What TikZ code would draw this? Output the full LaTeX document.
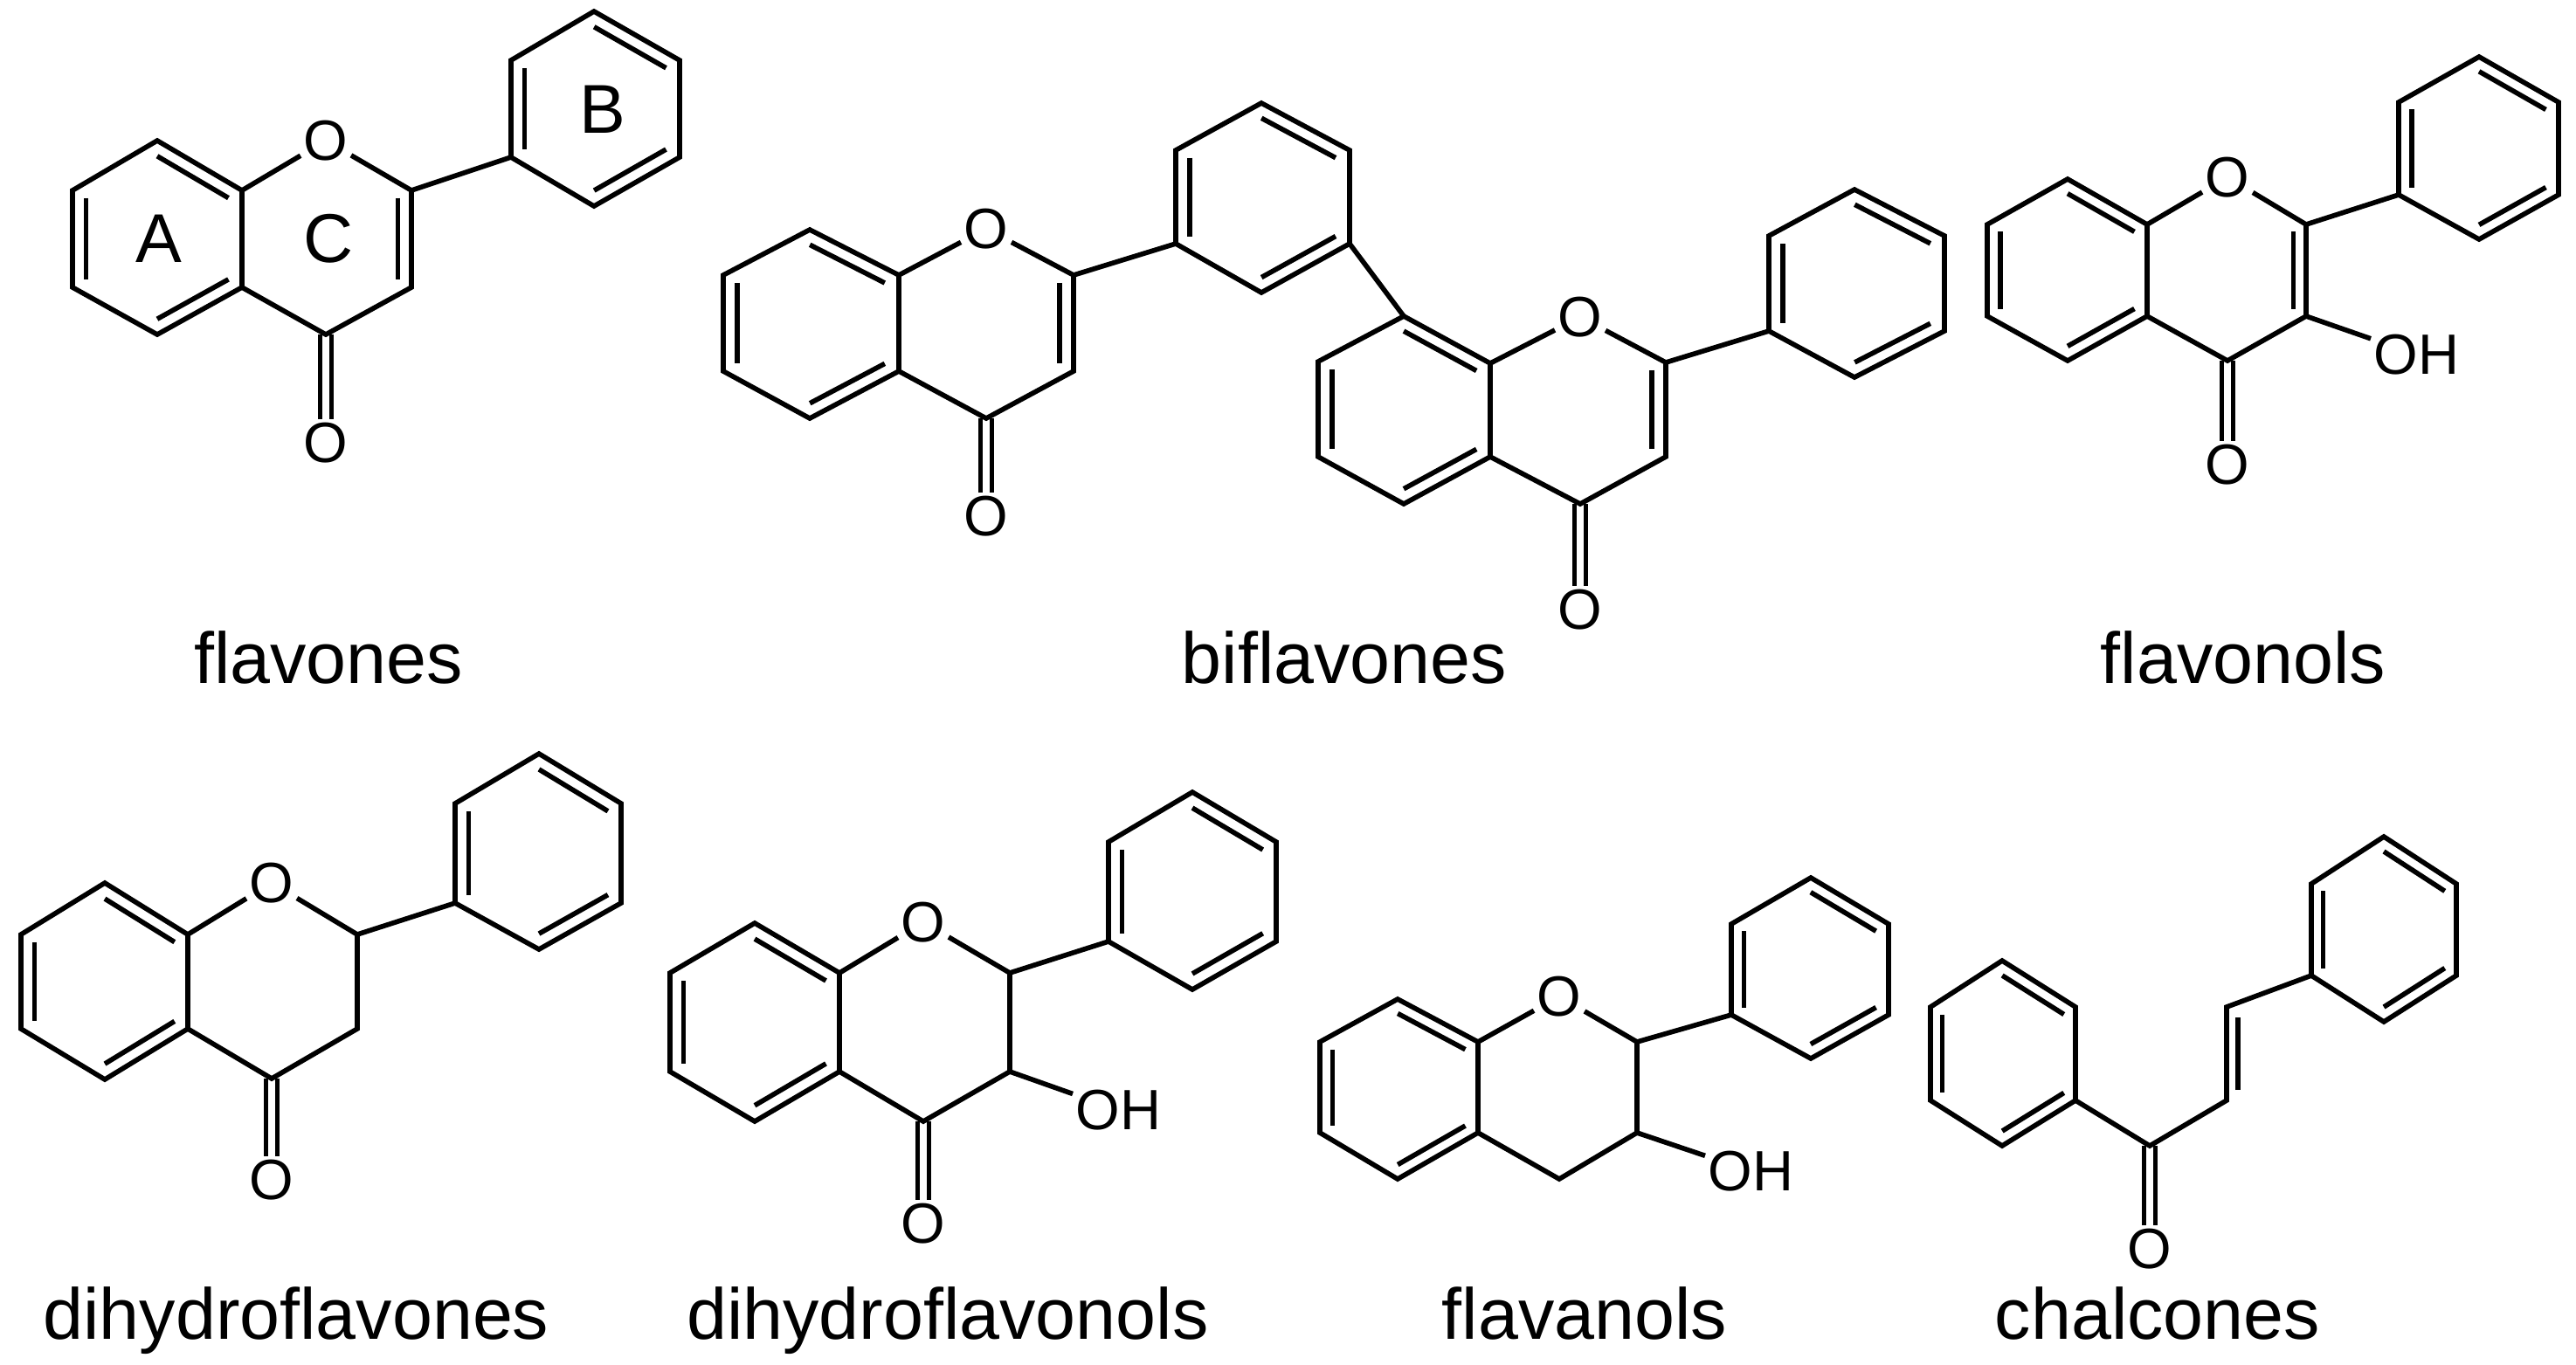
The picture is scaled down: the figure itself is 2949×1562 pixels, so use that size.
\documentclass[tikz,border=0pt]{standalone}
\usepackage{fontspec}
\setmainfont{Liberation Sans}
\usetikzlibrary{calc}
\tikzset{
  bond/.style={line width=1.6pt, line join=miter},
  atom/.style={inner sep=0.03cm, font=\fontsize{18.5pt}{20pt}\selectfont},
  ringlab/.style={inner sep=0pt, font=\fontsize{22.5pt}{24pt}\selectfont},
  cname/.style={inner sep=0pt, anchor=base, font=\fontsize{23.5pt}{26pt}\selectfont}
}
\newcommand{\ib}[3]{\draw[bond] ($(#1)!0.16!(#3)$) -- ($(#2)!0.16!(#3)$);}
\newcommand{\co}[2]{\draw[bond] ([xshift=-0.065cm]#1) -- ([xshift=-0.065cm]#2.north); \draw[bond] ([xshift=0.065cm]#1) -- ([xshift=0.065cm]#2.north);}
\newcommand{\hexa}[6]{\draw[bond] (#1)--(#2)--(#3)--(#4)--(#5)--(#6)--cycle;}
\begin{document}
\begin{tikzpicture}[x=0.01cm,y=-0.01cm]
\useasboundingbox (0,0) rectangle (2949,1562);
% ================= flavones
\coordinate (fA1) at (180,161); \coordinate (fA2) at (277,218); \coordinate (fA3) at (277,329);
\coordinate (fA4) at (180,383); \coordinate (fA5) at (83,329); \coordinate (fA6) at (83,218);
\coordinate (fAc) at (180,272);
\node[atom] (fO) at (373,161) {O};
\coordinate (fC2) at (471,218); \coordinate (fC3) at (471,329); \coordinate (fC4) at (373,383);
\coordinate (fCc) at (373,272);
\node[atom] (fOc) at (373,507) {O};
\coordinate (fB1) at (680,13); \coordinate (fB2) at (778,69); \coordinate (fB3) at (778,180);
\coordinate (fB4) at (680,236); \coordinate (fB5) at (585,180); \coordinate (fB6) at (585,69);
\coordinate (fBc) at (681,124);
\hexa{fA1}{fA2}{fA3}{fA4}{fA5}{fA6}
\ib{fA6}{fA5}{fAc} \ib{fA1}{fA2}{fAc} \ib{fA3}{fA4}{fAc}
\draw[bond] (fA2) -- (fO); \draw[bond] (fO) -- (fC2);
\draw[bond] (fC2) -- (fC3) -- (fC4) -- (fA3);
\ib{fC2}{fC3}{fCc}
\co{fC4}{fOc}
\draw[bond] (fC2) -- (fB5);
\hexa{fB1}{fB2}{fB3}{fB4}{fB5}{fB6}
\ib{fB6}{fB5}{fBc} \ib{fB1}{fB2}{fBc} \ib{fB3}{fB4}{fBc}
\node[ringlab] (labA) at (182,273) {A};
\node[ringlab] (labC) at (376,273) {C};
\node[ringlab] (labB) at (690,125) {B};
\node[cname] (nflavones) at (376,782) {flavones};
% ================= biflavones
\coordinate (bA1) at (927,263); \coordinate (bA2) at (1029,315); \coordinate (bA3) at (1029,425);
\coordinate (bA4) at (927,479); \coordinate (bA5) at (828,425); \coordinate (bA6) at (828,315);
\coordinate (bAc) at (928,371);
\node[atom] (bO) at (1129,262) {O};
\coordinate (bC2) at (1229,315); \coordinate (bC3) at (1229,425); \coordinate (bC4) at (1129,479);
\coordinate (bCc) at (1129,371);
\node[atom] (bOc) at (1129,591) {O};
\hexa{bA1}{bA2}{bA3}{bA4}{bA5}{bA6}
\ib{bA6}{bA5}{bAc} \ib{bA1}{bA2}{bAc} \ib{bA3}{bA4}{bAc}
\draw[bond] (bA2) -- (bO); \draw[bond] (bO) -- (bC2);
\draw[bond] (bC2) -- (bC3) -- (bC4) -- (bA3);
\ib{bC2}{bC3}{bCc}
\co{bC4}{bOc}
% middle ring
\coordinate (bM1) at (1444,118); \coordinate (bM2) at (1545,172); \coordinate (bM3) at (1545,279);
\coordinate (bM4) at (1444,335); \coordinate (bM5) at (1346,279); \coordinate (bM6) at (1346,172);
\coordinate (bMc) at (1445,226);
\draw[bond] (bC2) -- (bM5);
\hexa{bM1}{bM2}{bM3}{bM4}{bM5}{bM6}
\ib{bM6}{bM5}{bMc} \ib{bM1}{bM2}{bMc} \ib{bM3}{bM4}{bMc}
% second chromone
\coordinate (cA1) at (1607,362); \coordinate (cA2) at (1706,416); \coordinate (cA3) at (1706,523);
\coordinate (cA4) at (1607,577); \coordinate (cA5) at (1509,523); \coordinate (cA6) at (1509,414);
\coordinate (cAc) at (1607,469);
\node[atom] (cO) at (1809,363) {O};
\coordinate (cC2) at (1907,415); \coordinate (cC3) at (1907,523); \coordinate (cC4) at (1809,577);
\coordinate (cCc) at (1808,469);
\node[atom] (cOc) at (1809,698) {O};
\draw[bond] (bM3) -- (cA1);
\hexa{cA1}{cA2}{cA3}{cA4}{cA5}{cA6}
\ib{cA6}{cA5}{cAc} \ib{cA1}{cA2}{cAc} \ib{cA3}{cA4}{cAc}
\draw[bond] (cA2) -- (cO); \draw[bond] (cO) -- (cC2);
\draw[bond] (cC2) -- (cC3) -- (cC4) -- (cA3);
\ib{cC2}{cC3}{cCc}
\co{cC4}{cOc}
\coordinate (cB1) at (2123,217); \coordinate (cB2) at (2226,270); \coordinate (cB3) at (2226,379);
\coordinate (cB4) at (2123,432); \coordinate (cB5) at (2025,379); \coordinate (cB6) at (2025,270);
\coordinate (cBc) at (2125,325);
\draw[bond] (cC2) -- (cB5);
\hexa{cB1}{cB2}{cB3}{cB4}{cB5}{cB6}
\ib{cB6}{cB5}{cBc} \ib{cB1}{cB2}{cBc} \ib{cB3}{cB4}{cBc}
\node[cname] (nbiflavones) at (1539,782) {biflavones};
% ================= flavonols
\coordinate (lA1) at (2367,205); \coordinate (lA2) at (2458,257); \coordinate (lA3) at (2458,362);
\coordinate (lA4) at (2367,413); \coordinate (lA5) at (2275,362); \coordinate (lA6) at (2275,257);
\coordinate (lAc) at (2367,309);
\node[atom] (lO) at (2550,203) {O};
\coordinate (lC2) at (2640,257); \coordinate (lC3) at (2640,362); \coordinate (lC4) at (2550,413);
\coordinate (lCc) at (2549,309);
\node[atom] (lOc) at (2550,532) {O};
\node[atom, anchor=west] (lOH) at (2714,406) {OH};
\hexa{lA1}{lA2}{lA3}{lA4}{lA5}{lA6}
\ib{lA6}{lA5}{lAc} \ib{lA1}{lA2}{lAc} \ib{lA3}{lA4}{lAc}
\draw[bond] (lA2) -- (lO); \draw[bond] (lO) -- (lC2);
\draw[bond] (lC2) -- (lC3) -- (lC4) -- (lA3);
\ib{lC2}{lC3}{lCc}
\co{lC4}{lOc}
\draw[bond] (lC3) -- (lOH);
\coordinate (lB1) at (2838,65); \coordinate (lB2) at (2929,117); \coordinate (lB3) at (2929,223);
\coordinate (lB4) at (2838,274); \coordinate (lB5) at (2746,223); \coordinate (lB6) at (2746,117);
\coordinate (lBc) at (2838,170);
\draw[bond] (lC2) -- (lB5);
\hexa{lB1}{lB2}{lB3}{lB4}{lB5}{lB6}
\ib{lB6}{lB5}{lBc} \ib{lB1}{lB2}{lBc} \ib{lB3}{lB4}{lBc}
\node[cname] (nflavonols) at (2568,782) {flavonols};
% ================= dihydroflavones
\coordinate (dA1) at (120,1011); \coordinate (dA2) at (215,1070); \coordinate (dA3) at (215,1178);
\coordinate (dA4) at (120,1236); \coordinate (dA5) at (24,1178); \coordinate (dA6) at (24,1070);
\coordinate (dAc) at (120,1124);
\node[atom] (dO) at (311,1011) {O};
\coordinate (dC2) at (409,1070); \coordinate (dC3) at (409,1178); \coordinate (dC4) at (311,1235);
\coordinate (dCc) at (311,1124);
\node[atom] (dOc) at (311,1351) {O};
\hexa{dA1}{dA2}{dA3}{dA4}{dA5}{dA6}
\ib{dA6}{dA5}{dAc} \ib{dA1}{dA2}{dAc} \ib{dA3}{dA4}{dAc}
\draw[bond] (dA2) -- (dO); \draw[bond] (dO) -- (dC2);
\draw[bond] (dC2) -- (dC3) -- (dC4) -- (dA3);
\co{dC4}{dOc}
\coordinate (dB1) at (617,863); \coordinate (dB2) at (711,920); \coordinate (dB3) at (711,1034);
\coordinate (dB4) at (617,1087); \coordinate (dB5) at (521,1034); \coordinate (dB6) at (521,920);
\coordinate (dBc) at (617,975);
\draw[bond] (dC2) -- (dB5);
\hexa{dB1}{dB2}{dB3}{dB4}{dB5}{dB6}
\ib{dB6}{dB5}{dBc} \ib{dB1}{dB2}{dBc} \ib{dB3}{dB4}{dBc}
\node[cname] (ndihydroflavones) at (339,1533) {dihydroflavones};
% ================= dihydroflavonols
\coordinate (eA1) at (864,1057); \coordinate (eA2) at (961,1114); \coordinate (eA3) at (961,1227);
\coordinate (eA4) at (864,1284); \coordinate (eA5) at (767,1227); \coordinate (eA6) at (767,1114);
\coordinate (eAc) at (864,1170);
\node[atom] (eO) at (1057,1056) {O};
\coordinate (eC2) at (1156,1114); \coordinate (eC3) at (1156,1227); \coordinate (eC4) at (1057,1284);
\coordinate (eCc) at (1058,1170);
\node[atom] (eOc) at (1057,1401) {O};
\node[atom, anchor=west] (eOH) at (1228,1271) {OH};
\hexa{eA1}{eA2}{eA3}{eA4}{eA5}{eA6}
\ib{eA6}{eA5}{eAc} \ib{eA1}{eA2}{eAc} \ib{eA3}{eA4}{eAc}
\draw[bond] (eA2) -- (eO); \draw[bond] (eO) -- (eC2);
\draw[bond] (eC2) -- (eC3) -- (eC4) -- (eA3);
\co{eC4}{eOc}
\draw[bond] (eC3) -- (eOH);
\coordinate (eB1) at (1365,907); \coordinate (eB2) at (1461,964); \coordinate (eB3) at (1461,1078);
\coordinate (eB4) at (1365,1133); \coordinate (eB5) at (1269,1078); \coordinate (eB6) at (1269,964);
\coordinate (eBc) at (1365,1020);
\draw[bond] (eC2) -- (eB5);
\hexa{eB1}{eB2}{eB3}{eB4}{eB5}{eB6}
\ib{eB6}{eB5}{eBc} \ib{eB1}{eB2}{eBc} \ib{eB3}{eB4}{eBc}
\node[cname] (ndihydroflavonols) at (1085,1533) {dihydroflavonols};
% ================= flavanols
\coordinate (gA1) at (1600,1144); \coordinate (gA2) at (1692,1193); \coordinate (gA3) at (1692,1297);
\coordinate (gA4) at (1600,1350); \coordinate (gA5) at (1511,1297); \coordinate (gA6) at (1511,1193);
\coordinate (gAc) at (1601,1247);
\node[atom] (gO) at (1785,1141) {O};
\coordinate (gC2) at (1874,1193); \coordinate (gC3) at (1874,1297); \coordinate (gC4) at (1785,1350);
\node[atom, anchor=west] (gOH) at (1952,1341) {OH};
\hexa{gA1}{gA2}{gA3}{gA4}{gA5}{gA6}
\ib{gA6}{gA5}{gAc} \ib{gA1}{gA2}{gAc} \ib{gA3}{gA4}{gAc}
\draw[bond] (gA2) -- (gO); \draw[bond] (gO) -- (gC2);
\draw[bond] (gC2) -- (gC3) -- (gC4) -- (gA3);
\draw[bond] (gC3) -- (gOH);
\coordinate (gB1) at (2073,1005); \coordinate (gB2) at (2162,1058); \coordinate (gB3) at (2162,1162);
\coordinate (gB4) at (2073,1212); \coordinate (gB5) at (1982,1162); \coordinate (gB6) at (1982,1058);
\coordinate (gBc) at (2072,1109);
\draw[bond] (gC2) -- (gB5);
\hexa{gB1}{gB2}{gB3}{gB4}{gB5}{gB6}
\ib{gB6}{gB5}{gBc} \ib{gB1}{gB2}{gBc} \ib{gB3}{gB4}{gBc}
\node[cname] (nflavanols) at (1814,1533) {flavanols};
% ================= chalcones
\coordinate (hA1) at (2292,1100); \coordinate (hA2) at (2376,1153); \coordinate (hA3) at (2376,1260);
\coordinate (hA4) at (2292,1312); \coordinate (hA5) at (2210,1260); \coordinate (hA6) at (2210,1153);
\coordinate (hAc) at (2293,1206);
\coordinate (hCO) at (2461,1312);
\node[atom] (hO) at (2461,1430) {O};
\coordinate (hCa) at (2549,1260); \coordinate (hCb) at (2549,1153);
\coordinate (hB1) at (2729,958); \coordinate (hB2) at (2812,1012); \coordinate (hB3) at (2812,1117);
\coordinate (hB4) at (2729,1170); \coordinate (hB5) at (2646,1117); \coordinate (hB6) at (2646,1012);
\coordinate (hBc) at (2729,1064);
\hexa{hA1}{hA2}{hA3}{hA4}{hA5}{hA6}
\ib{hA6}{hA5}{hAc} \ib{hA1}{hA2}{hAc} \ib{hA3}{hA4}{hAc}
\draw[bond] (hA3) -- (hCO) -- (hCa) -- (hCb) -- (hB5);
\draw[bond] ([xshift=0.13cm,yshift=0.12cm]hCa) -- ([xshift=0.13cm,yshift=-0.12cm]hCb);
\co{hCO}{hO}
\hexa{hB1}{hB2}{hB3}{hB4}{hB5}{hB6}
\ib{hB6}{hB5}{hBc} \ib{hB1}{hB2}{hBc} \ib{hB3}{hB4}{hBc}
\node[cname] (nchalcones) at (2470,1533) {chalcones};
\end{tikzpicture}
\end{document}
